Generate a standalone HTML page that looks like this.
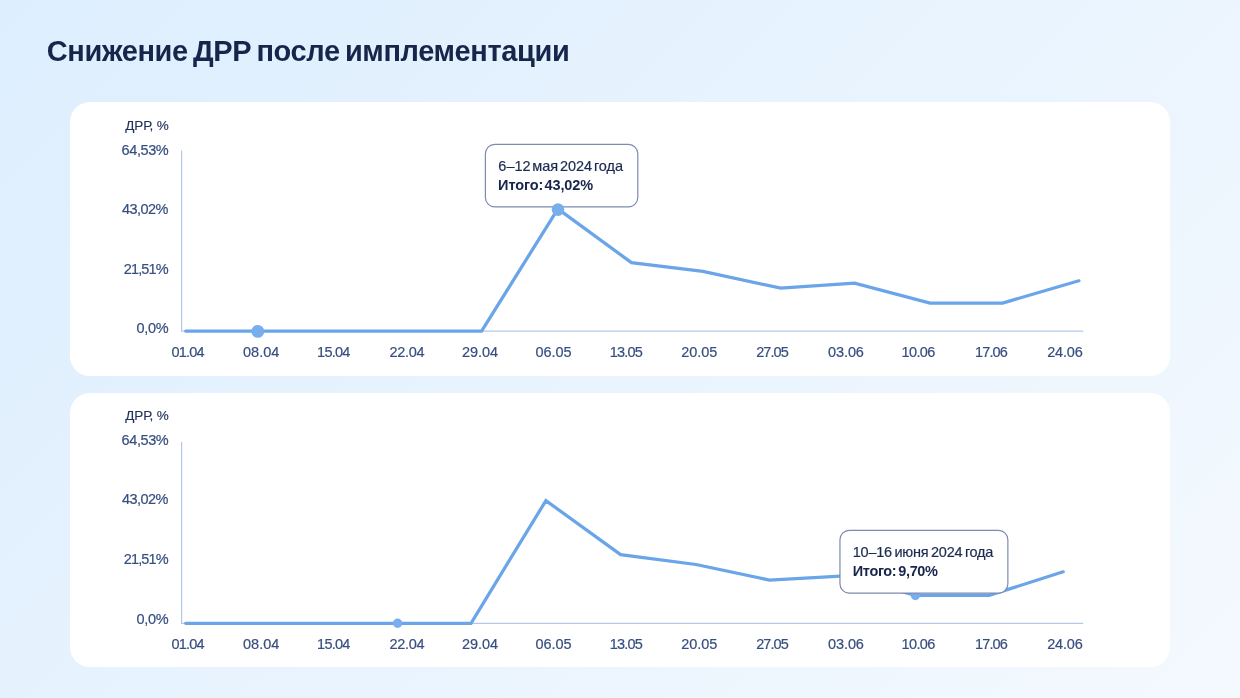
<!DOCTYPE html>
<html lang="ru">
<head>
<meta charset="utf-8">
<title>Снижение ДРР после имплементации</title>
<style>
  html, body { margin: 0; padding: 0; }
  body {
    width: 1240px; height: 698px; overflow: hidden; position: relative;
    font-family: "Liberation Sans", sans-serif;
    background: linear-gradient(135deg, #ddeefe 0%, #f4f9fe 100%);
    color: #1b2a50;
  }
  h1 {
    position: absolute; left: 46.75px; top: 33.80px; margin: 0;
    font-size: 29px; line-height: 34px; font-weight: 700;
    letter-spacing: -0.384px; word-spacing: -2.434px; color: #17254b; white-space: nowrap;
  }
  .card {
    position: absolute; left: 70px; width: 1100px; height: 274px;
    background: #fff; border-radius: 20px;
  }
  #card1 { top: 102px; }
  #card2 { top: 393px; }
  .card svg { position: absolute; left: 0; top: 0; width: 1100px; height: 274px; overflow: visible; }
  .card svg text { font-family: "Liberation Sans", sans-serif; font-size: 14.5px; fill: #364e80; stroke: #364e80; stroke-width: 0.2px; }
  .card svg text.unit { font-size: 13.5px; fill: #1f3159; stroke: #1f3159; stroke-width: 0.15px; }
  .axis { fill: none; stroke: #b4c9ea; stroke-width: 1.2; }
  .line { fill: none; stroke: #6aa5e9; stroke-width: 3.25; stroke-linejoin: miter; stroke-linecap: round; }
  .pt { fill: #79aeee; }
  .tip {
    position: absolute;
    font-size: 14.5px; line-height: 16px; color: #1b2a50; white-space: nowrap;
  }
  .card .tip svg { width: 100%; height: 100%; }
  .tip rect { fill: #fff; stroke: #7c8bae; stroke-width: 1.2; }
  .tip span, .tip b { position: absolute; display: block; }
  .tip span { -webkit-text-stroke: 0.2px #1b2a50; }
  .tip b { font-weight: 700; color: #17254b; }
</style>
</head>
<body>
<h1>Снижение ДРР после имплементации</h1>

<div class="card" id="card1">
  <svg viewBox="0 0 1100 274">
    <text class="unit" x="55.30" y="27.5" letter-spacing="-0.13">ДРР, %</text>
    <text x="51.55" y="52.5" letter-spacing="-0.4">64,53%</text>
    <text x="51.95" y="112.1" letter-spacing="-0.52">43,02%</text>
    <text x="53.85" y="171.6" letter-spacing="-0.9">21,51%</text>
    <text x="66.60" y="230.9" letter-spacing="-0.333">0,0%</text>
    <text x="101.60" y="255.1" letter-spacing="-0.8">01.04</text>
    <text x="173.00" y="255.1" letter-spacing="0.0">08.04</text>
    <text x="247.10" y="255.1" letter-spacing="-0.775">15.04</text>
    <text x="319.55" y="255.1" letter-spacing="-0.338">22.04</text>
    <text x="392.05" y="255.1" letter-spacing="-0.088">29.04</text>
    <text x="465.50" y="255.1" letter-spacing="-0.062">06.05</text>
    <text x="539.80" y="255.1" letter-spacing="-0.812">13.05</text>
    <text x="611.35" y="255.1" letter-spacing="-0.05">20.05</text>
    <text x="686.15" y="255.1" letter-spacing="-0.9">27.05</text>
    <text x="758.00" y="255.1" letter-spacing="-0.088">03.06</text>
    <text x="831.60" y="255.1" letter-spacing="-0.662">10.06</text>
    <text x="905.12" y="255.1" letter-spacing="-0.9">17.06</text>
    <text x="977.15" y="255.1" letter-spacing="-0.175">24.06</text>
    <path class="axis" d="M111.6 48.5V229.1H1013.2"/>
    <polyline class="line" points="115.7,229.1 411.6,229.1 487.9,106.9 561.4,160.6 633.0,169.4 710.7,186.2 784.6,181.2 860.0,201.0 932.7,201.0 1008.9,178.8"/>
  </svg>
  <div class="tip" style="left:414px; top:41px; width:156px; height:66px;">
    <svg viewBox="0 0 156 66"><rect x="1.40" y="1.35" width="152.40" height="62.50" rx="9.3" ry="9.3"/></svg>
    <span style="left:14.35px; top:15.08px; letter-spacing:-0.019px; word-spacing:-2.224px;">6–12 мая 2024 года</span>
    <b style="left:14.10px; top:33.98px; letter-spacing:-0.075px; word-spacing:-2.9px;">Итого: 43,02%</b>
  </div>
  <svg viewBox="0 0 1100 274">
    <circle class="pt" cx="187.8" cy="229.4" r="6.4"/>
    <circle class="pt" cx="488.0" cy="107.6" r="6.3"/>
  </svg>
</div>

<div class="card" id="card2">
  <svg viewBox="0 0 1100 274">
    <text class="unit" x="55.30" y="26.5" letter-spacing="-0.13">ДРР, %</text>
    <text x="51.55" y="51.8" letter-spacing="-0.4">64,53%</text>
    <text x="51.95" y="111.4" letter-spacing="-0.52">43,02%</text>
    <text x="53.85" y="171.0" letter-spacing="-0.9">21,51%</text>
    <text x="66.60" y="230.6" letter-spacing="-0.333">0,0%</text>
    <text x="101.60" y="255.8" letter-spacing="-0.8">01.04</text>
    <text x="173.00" y="255.8" letter-spacing="0.0">08.04</text>
    <text x="247.10" y="255.8" letter-spacing="-0.775">15.04</text>
    <text x="319.55" y="255.8" letter-spacing="-0.338">22.04</text>
    <text x="392.05" y="255.8" letter-spacing="-0.088">29.04</text>
    <text x="465.50" y="255.8" letter-spacing="-0.062">06.05</text>
    <text x="539.80" y="255.8" letter-spacing="-0.812">13.05</text>
    <text x="611.35" y="255.8" letter-spacing="-0.05">20.05</text>
    <text x="686.15" y="255.8" letter-spacing="-0.9">27.05</text>
    <text x="758.00" y="255.8" letter-spacing="-0.088">03.06</text>
    <text x="831.60" y="255.8" letter-spacing="-0.662">10.06</text>
    <text x="905.12" y="255.8" letter-spacing="-0.9">17.06</text>
    <text x="977.15" y="255.8" letter-spacing="-0.175">24.06</text>
    <path class="axis" d="M111.6 49.1V230.3H1013.2"/>
    <polyline class="line" points="115.7,230.3 401.0,230.3 475.9,107.6 550.6,161.6 626.0,171.5 699.5,187.1 775.0,183.0 845.4,202.4 919.1,202.4 993.2,178.8"/>
    <circle class="pt" cx="327.6" cy="230.3" r="4.7"/>
    <circle class="pt" cx="845.4" cy="202.6" r="4.6"/>
  </svg>
  <div class="tip" style="left:768px; top:136px; width:172px; height:67px;">
    <svg viewBox="0 0 172 67"><rect x="1.95" y="1.45" width="167.92" height="62.60" rx="9.3" ry="9.3"/></svg>
    <span style="left:14.80px; top:15.18px; letter-spacing:-0.245px; word-spacing:-1.163px;">10–16 июня 2024 года</span>
    <b style="left:14.80px; top:33.58px; letter-spacing:-0.365px; word-spacing:-1.689px;">Итого: 9,70%</b>
  </div>
</div>
</body>
</html>
